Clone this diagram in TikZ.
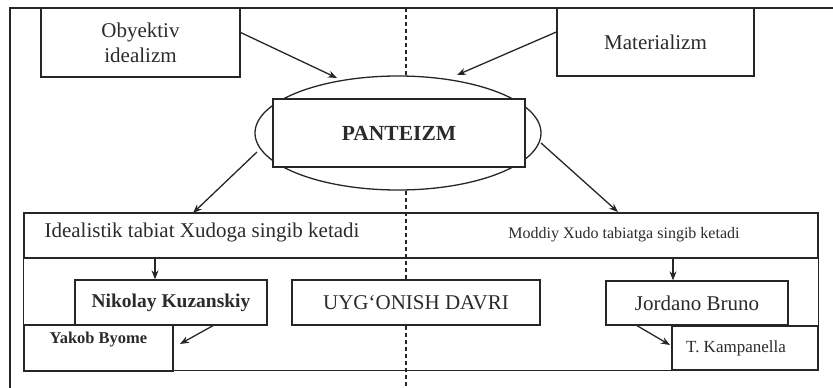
\documentclass[tikz,border=0pt]{standalone}
\usepackage{fontspec}
\setmainfont{Liberation Serif}
\usetikzlibrary{shapes.geometric, arrows.meta}
\definecolor{ink}{HTML}{262626}
\definecolor{txt}{HTML}{2B2B2B}
\tikzset{
  box/.style={draw=ink, line width=1.3pt, fill=white, inner sep=0pt, text=txt,
    align=center, font=\fontsize{21}{25}\selectfont},
  word/.style={inner sep=0pt, text=txt, font=\fontsize{21}{25}\selectfont},
  arr/.style={draw=ink, line width=1.3pt, -{Stealth[length=9pt,width=7pt]}},
  midline/.style={draw=ink, line width=1.1pt, dash pattern=on 4pt off 3pt},
}

\begin{document}
\begin{tikzpicture}[x=1pt, y=-1pt]
  \useasboundingbox (0,0) rectangle (833,388);

  % 1. outer frame of the page
  \draw[ink, line width=1.3pt] (10,388) -- (10,8) -- (833,8);

  % 2. upper boxes and the ellipse
  \node[box, minimum width=199, minimum height=69] (obj) at (140.5,42.5) {Obyektiv\\idealizm};
  \node[box, minimum width=197, minimum height=68] (mat) at (655.5,42) {Materializm};
  \node[draw=ink, line width=1.3pt, ellipse, inner sep=0pt,
        minimum width=286, minimum height=114] (ell) at (398,133) {};
  \node[box, minimum width=252, minimum height=68,
        font=\fontsize{21.5}{25}\selectfont\bfseries] (pan) at (399,133) {PANTEIZM};

  % 3. lower frame
  \node[box, fill=none, minimum width=794, minimum height=45] (band) at (421,235.5) {};
  \node[word] (ideal) at (202,232) {Idealistik tabiat Xudoga singib ketadi};
  \node[word, font=\fontsize{16}{19}\selectfont] (mdy) at (624,235) {Moddiy Xudo tabiatga singib ketadi};
  \node[box, minimum width=192, minimum height=45,
        font=\fontsize{19.5}{23}\selectfont\bfseries] (nik) at (171,302.5) {Nikolay Kuzanskiy};
  \node[box, minimum width=248, minimum height=45] (uyg) at (416,302.5) {UYG‘ONISH DAVRI};
  \node[box, minimum width=182, minimum height=44] (jor) at (697,303) {Jordano Bruno};
  \node[box, minimum width=149, minimum height=46, text height=11pt, text depth=20pt,
        font=\fontsize{16.5}{19}\selectfont\bfseries] (yak) at (98.5,348) {Yakob Byome};
  \node[box, minimum width=146, minimum height=44,
        font=\fontsize{17}{20}\selectfont] (kam) at (745,348) {T. Kampanella\hspace*{18pt}};
  \draw[ink, line width=1.3pt] (band.south west) |- (kam.south east) -- (band.south east);

  % 4. dashed middle line
  \coordinate (dtop) at (406,8);
  \coordinate (dbot) at (406,388);
  \draw[midline] (dtop) -- (ell.north -| dtop);
  \draw[midline] (ell.south -| dtop) -- (uyg.north -| dtop);
  \draw[midline] (uyg.south -| dtop) -- (dbot);

  % 5. arrows
  \coordinate (t1) at (337,78);
  \coordinate (t2) at (457,75);
  \coordinate (s3) at (257,152);
  \coordinate (t3) at (193,213);
  \coordinate (s4) at (541,143);
  \coordinate (t4) at (618,212);
  \coordinate (t7) at (180,344);
  \coordinate (t8) at (670,345);
  \draw[arr] ([yshift=10pt]obj.east) -- (t1);
  \draw[arr] ([yshift=10pt]mat.west) -- (t2);
  \draw[arr] (s3) -- (t3);
  \draw[arr] (s4) -- (t4);
  \draw[arr] ([xshift=-16pt]nik.north |- band.south) -- ([xshift=-16pt]nik.north);
  \draw[arr] ([xshift=-24pt]jor.north |- band.south) -- ([xshift=-24pt]jor.north);
  \draw[arr] ([xshift=42pt]nik.south) -- (t7);
  \draw[arr] ([xshift=-60pt]jor.south) -- (t8);
\end{tikzpicture}
\end{document}
